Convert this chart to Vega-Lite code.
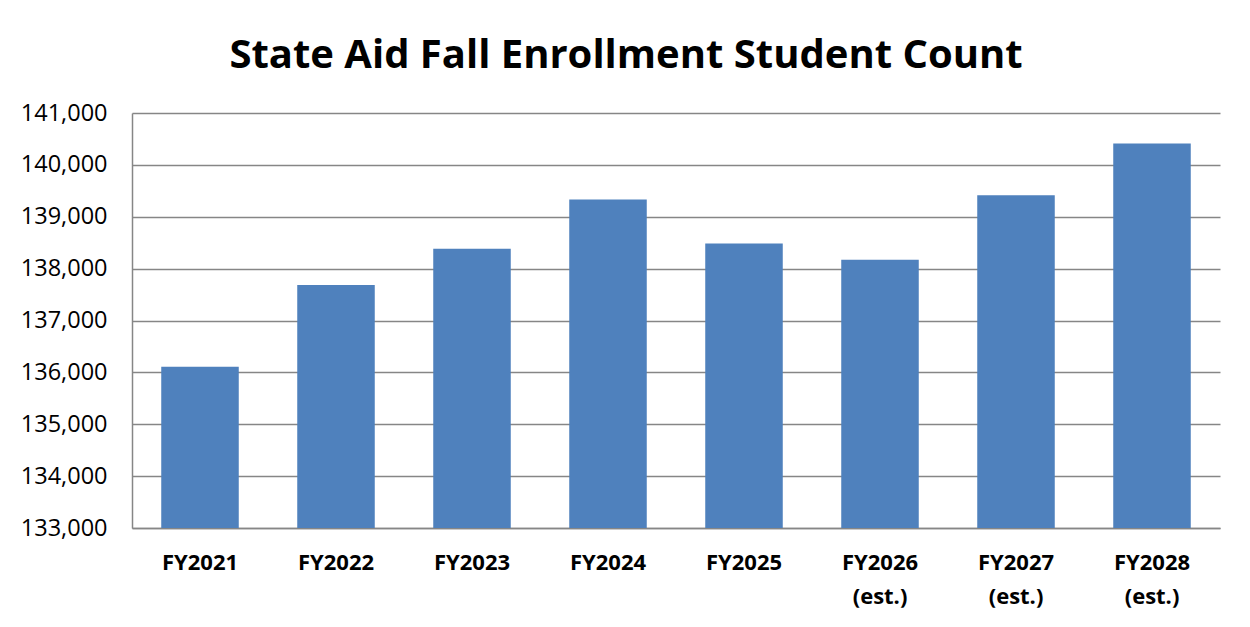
{
  "$schema": "https://vega.github.io/schema/vega-lite/v6.json",
  "autosize": {"type": "none"},
  "padding": {"left": 132, "top": 113, "right": 30, "bottom": 99},
  "width": 1088,
  "height": 415,
  "background": "white",
  "title": {
    "text": "State Aid Fall Enrollment Student Count",
    "font": "Liberation Sans Narrow, Open Sans",
    "fontSize": 40,
    "fontWeight": "bold",
    "color": "#000000",
    "anchor": "middle",
    "dx": -50,
    "baseline": "alphabetic",
    "offset": -7
  },
  "data": {
    "values": [
      {"year": "FY2021", "count": 136108},
      {"year": "FY2022", "count": 137682},
      {"year": "FY2023", "count": 138385},
      {"year": "FY2024", "count": 139333},
      {"year": "FY2025", "count": 138482},
      {"year": "FY2026|(est.)", "count": 138173},
      {"year": "FY2027|(est.)", "count": 139416},
      {"year": "FY2028|(est.)", "count": 140410}
    ]
  },
  "mark": {"type": "bar", "color": "#4F81BD", "clip": true},
  "encoding": {
    "x": {
      "field": "year",
      "type": "nominal",
      "sort": null,
      "scale": {"paddingInner": 0.43, "paddingOuter": 0.215},
      "axis": {
        "title": null,
        "labelAngle": 0,
        "labelExpr": "split(datum.label, '|')",
        "labelFont": "Open Sans",
        "labelFontSize": 22,
        "labelFontWeight": "bold",
        "labelColor": "#000000",
        "labelLineHeight": 34,
        "labelBaseline": "top",
        "labelPadding": 24,
        "ticks": false,
        "domainColor": "#868686",
        "domainWidth": 1.5,
        "grid": false
      }
    },
    "y": {
      "field": "count",
      "type": "quantitative",
      "scale": {"domain": [133000, 141000], "zero": false, "nice": false},
      "axis": {
        "title": null,
        "values": [133000, 134000, 135000, 136000, 137000, 138000, 139000, 140000, 141000],
        "format": ",d",
        "labelFont": "Open Sans",
        "labelFontSize": 23.5,
        "labelColor": "#000000",
        "labelPadding": 25,
        "ticks": false,
        "domainColor": "#868686",
        "domainWidth": 1.5,
        "grid": true,
        "gridColor": "#868686",
        "gridWidth": 1.5
      }
    }
  },
  "config": {
    "view": {"stroke": null}
  }
}
